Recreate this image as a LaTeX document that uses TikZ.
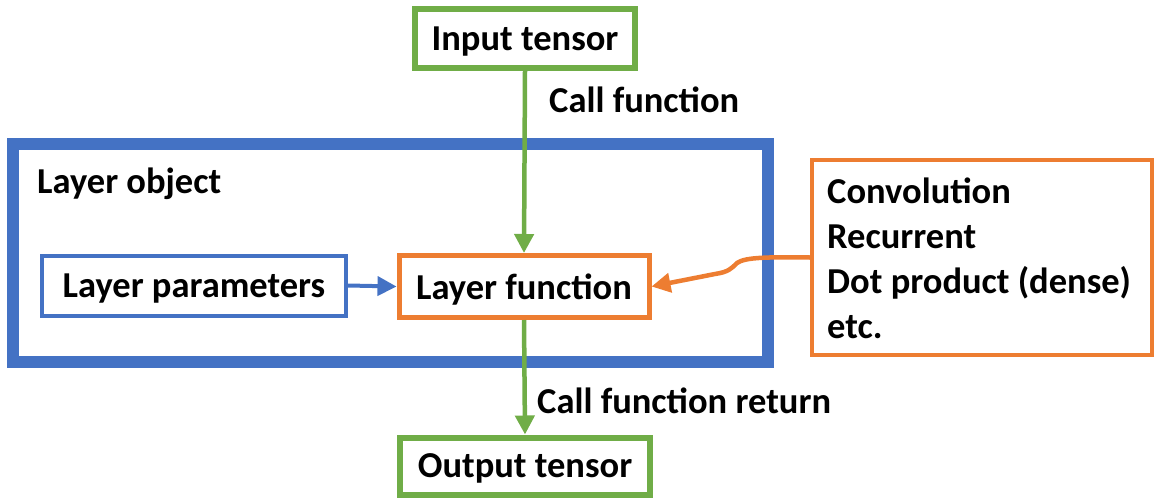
\documentclass[tikz,border=0pt]{standalone}
\usepackage{fontspec}
\setmainfont{Carlito}
\usetikzlibrary{arrows.meta}
\definecolor{offblue}{HTML}{4472C4}
\definecolor{offorange}{HTML}{ED7D31}
\definecolor{offgreen}{HTML}{70AD47}
\tikzset{
  lbl/.style={font=\fontsize{36.5}{45}\selectfont\bfseries, inner sep=0pt},
  box/.style={draw, fill=white, lbl, minimum width=#1, inner sep=0pt, text depth=0pt},
  tip/.style={-{Triangle[length=19pt,width=19pt]}},
}
\begin{document}
\begin{tikzpicture}[x=1pt,y=-1pt]
\useasboundingbox (0,0) rectangle (1157,498);

% container for the layer
\node[draw=offblue, line width=12pt, minimum width=755pt, minimum height=218pt] (lobj) at (390.5,253) {};
\node[lbl, anchor=west] (lobjtxt) at (37,184) {Layer object};

% boxes
\node[box=220pt, draw=offgreen, line width=6pt, minimum height=59pt] (inp) at (525,38.5) {Input tensor};
\node[box=304pt, draw=offblue, line width=4pt, minimum height=60pt] (lpar) at (194,285.5) {Layer parameters};
\node[box=250pt, draw=offorange, line width=5pt, minimum height=62pt] (lfun) at (524,286.5) {Layer function};
\node[box=250pt, draw=offgreen, line width=6pt, minimum height=57pt] (out) at (525,466) {Output tensor};
\node[draw=offorange, line width=4pt, fill=white, minimum width=340pt, minimum height=195pt] (rbox) at (982,257.5) {};
\node[lbl, align=left, anchor=west] (kinds) at (827,258)
  {Convolution\\Recurrent\\Dot product (dense)\\etc.};

% connectors
\draw[offgreen, line width=4.5pt, tip] (inp.south) -- (lfun.north);
\draw[offgreen, line width=4.5pt, tip] (lfun.south) -- (out.north);
\draw[offblue, line width=4pt, tip] (lpar.east) -- (lfun.west);
\draw[offorange, line width=4.5pt, tip]
  (rbox.west) .. controls (770,257) and (745,257) .. (737,263)
  .. controls (731,269) and (728,272) .. (715,274) -- (lfun.east);

% connector labels
\node[lbl, anchor=west] (callf) at (549,100) {Call function};
\node[lbl, anchor=west] (callr) at (537,401) {Call function return};
\end{tikzpicture}
\end{document}
